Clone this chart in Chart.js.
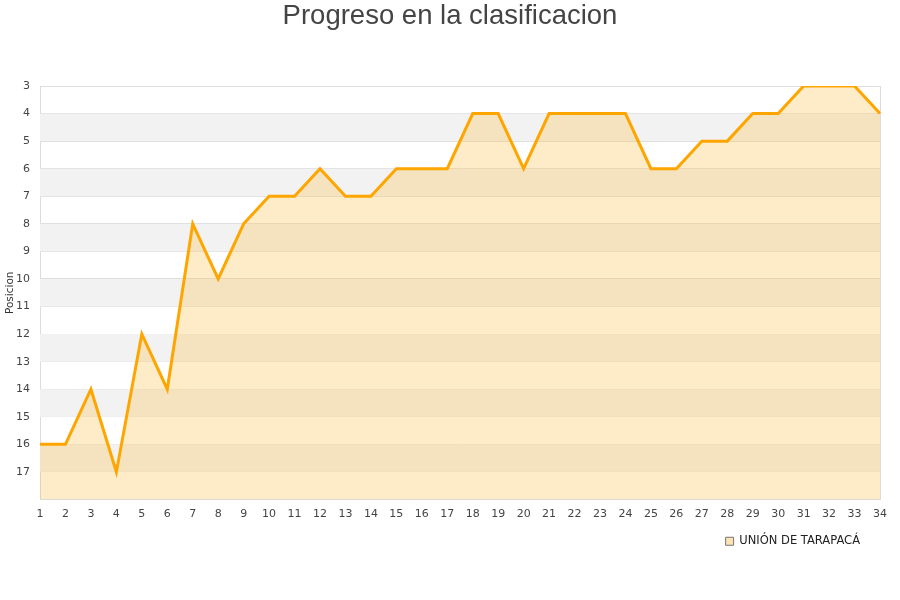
<!DOCTYPE html>
<html lang="es">
<head>
  <meta charset="UTF-8" />
  <title>Progreso en la clasificacion</title>
  <script src="https://cdn.jsdelivr.net/npm/chart.js@4.4.0/dist/chart.umd.min.js"></script>
  <style>
    body   { margin:0; background:#fff; }
    #wrap  { width:900px; height:600px; }
  </style>
</head>
<body>
  <div id="wrap"><canvas id="chart" width="900" height="600"></canvas></div>

  <script>
    /* ── data ── */
    const jornadas  = ['1','2','3','4','5','6','7','8','9','10','11','12','13','14','15','16','17',
                       '18','19','20','21','22','23','24','25','26','27','28','29','30','31','32','33','34'];
    const posiciones = [16,16,14,17,12,14,8,10,8,7,7,6,7,7,6,6,6,
                        4,4,6,4,4,4,4,6,6,5,5,4,4,3,3,3,4];
    const equipo    = 'UNIÓN DE TARAPACÁ';
    const yMin = 3, yMax = 18;

    /* alternating grey bands behind the plot */
    const bands = {
      id:'bands',
      beforeDatasetsDraw(chart){
        const {ctx, chartArea:a, scales:{y}} = chart;
        ctx.save();
        ctx.fillStyle = '#f2f2f2';
        for(let v = 4; v < yMax; v += 2){
          const t = y.getPixelForValue(v), b = y.getPixelForValue(v+1);
          ctx.fillRect(a.left, t, a.right - a.left, b - t);
        }
        ctx.restore();
      }
    };

    /* pull the legend a bit in from the right edge */
    const legendShift = {
      id:'legendShift',
      afterLayout(chart){ if(chart.legend) chart.legend.right -= 28; }
    };

    new Chart(document.getElementById('chart'), {
      type:'line',
      data:{
        labels:jornadas,
        datasets:[{
          label:equipo,
          data:posiciones,
          borderColor:'#ffa500',
          borderWidth:3,
          backgroundColor:'rgba(251,193,77,0.31)',
          fill:'start',
          tension:0,
          pointRadius:0
        }]
      },
      options:{
        responsive:false,
        animation:false,
        layout:{ padding:{ left:0, right:0, top:0, bottom:43 } },
        plugins:{
          title:{
            display:true,
            text:'Progreso en la clasificacion',
            color:'#444',
            font:{ family:'Liberation Sans, Arial, sans-serif', size:27.5, weight:'normal' },
            padding:{ top:0, bottom:53 }
          },
          legend:{
            position:'bottom',
            align:'end',
            labels:{
              boxWidth:8, boxHeight:8, padding:12,
              color:'#222',
              font:{ family:'DejaVu Sans, sans-serif', size:11.5 },
              generateLabels(chart){
                const items = Chart.defaults.plugins.legend.labels.generateLabels(chart);
                items.forEach(i=>{ i.fillStyle = '#fde3b4'; i.strokeStyle = '#777'; i.lineWidth = 1; });
                return items;
              }
            }
          },
          tooltip:{ enabled:false }
        },
        scales:{
          x:{
            offset:false,
            grid:{
              drawTicks:false,
              color:c => c.index === jornadas.length - 1 ? '#dcdcdc' : 'transparent'
            },
            border:{ color:'#dcdcdc' },
            ticks:{
              padding:8, maxRotation:0, autoSkip:false,
              color:'#444',
              font:{ family:'DejaVu Sans, sans-serif', size:11 }
            },
            afterFit(s){ s.height = 24; }
          },
          y:{
            reverse:true,
            min:yMin, max:yMax,
            grid:{ drawTicks:false, color:'#dddddd' },
            border:{ color:'#dcdcdc' },
            ticks:{
              stepSize:1, padding:10,
              color:'#444',
              font:{ family:'DejaVu Sans, sans-serif', size:11 },
              callback:v => v === yMax ? '' : v
            },
            title:{
              display:true, text:'Posicion', color:'#333',
              font:{ family:'DejaVu Sans, sans-serif', size:10.5 },
              padding:{ top:4, bottom:0 }
            },
            afterFit(s){ s.width = 40; }
          },
          /* empty right-hand axis, only to leave the 20px margin */
          yRight:{
            position:'right',
            grid:{ display:false },
            border:{ display:false },
            ticks:{ display:false },
            afterFit(s){ s.width = 20; }
          }
        }
      },
      plugins:[bands, legendShift]
    });
  </script>
</body>
</html>
